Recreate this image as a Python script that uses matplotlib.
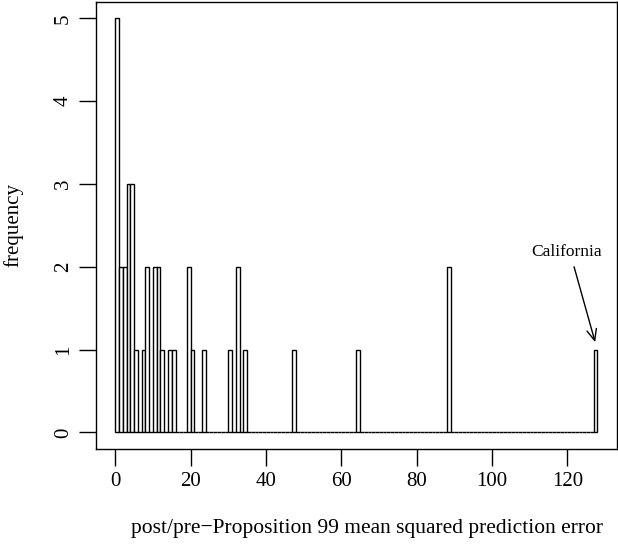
import matplotlib
matplotlib.use("Agg")
import matplotlib.pyplot as plt
import numpy as np

# Histogram data: bin index (left edge, width 1) -> count
bin_edges = list(range(0, 129))
nonzero_bins = [0, 1, 2, 3, 4, 5, 7, 8, 10, 11, 12, 14, 15, 19, 20, 23, 30, 32, 34, 47, 64, 88, 127]
nonzero_counts = [5, 2, 2, 3, 3, 1, 1, 2, 2, 2, 1, 1, 1, 2, 1, 1, 1, 2, 1, 1, 1, 2, 1]
x_ticks = [0, 20, 40, 60, 80, 100, 120]
y_ticks = [0, 1, 2, 3, 4, 5]
xlabel = "post/pre\u2212Proposition 99 mean squared prediction error"
ylabel = "frequency"
annot_text = "California"

plt.rcParams['font.family'] = ['Liberation Serif', 'DejaVu Serif']

counts = np.zeros(len(bin_edges) - 1)
for b, c in zip(nonzero_bins, nonzero_counts):
    counts[b] = c

fig = plt.figure(figsize=(6.18, 5.46), dpi=100)
ax = fig.add_axes([96 / 618, (546 - 449) / 546, (616.7 - 96) / 618, (449 - 1.7) / 546])

lefts = np.array(bin_edges[:-1])
ax.bar(lefts, counts, width=1.0, align='edge', facecolor='white',
       edgecolor='black', linewidth=1.0)

rng = bin_edges[-1] - bin_edges[0]
ax.set_xlim(bin_edges[0] - 0.04 * rng, bin_edges[-1] + 0.04 * rng)
ax.set_ylim(-0.04 * 5, 5 + 0.04 * 5)

ax.set_xticks(x_ticks)
ax.set_xticklabels([str(t) for t in x_ticks])
ax.set_yticks(y_ticks)
ax.set_yticklabels([str(t) for t in y_ticks], rotation=90, va='center')
ax.tick_params(axis='both', direction='out', length=12.5, width=1.0,
               labelsize=15, pad=4)
for s in ax.spines.values():
    s.set_linewidth(1.0)

fig.text(367 / 618, 1 - 528 / 546, xlabel, ha='center', va='center', fontsize=15.5)
fig.text(13 / 618, 1 - 225 / 546, ylabel, ha='center', va='center', rotation=90, fontsize=15)

ax.annotate("", xy=(127.4, 1.09), xytext=(121.8, 2.0),
            arrowprops=dict(arrowstyle='->,head_length=0.8,head_width=0.35',
                            color='black', lw=1.0, shrinkA=0, shrinkB=0))
ax.text(119.8, 2.18, annot_text, ha='center', va='center', fontsize=12.5)

fig.savefig("out.png", dpi=100)
